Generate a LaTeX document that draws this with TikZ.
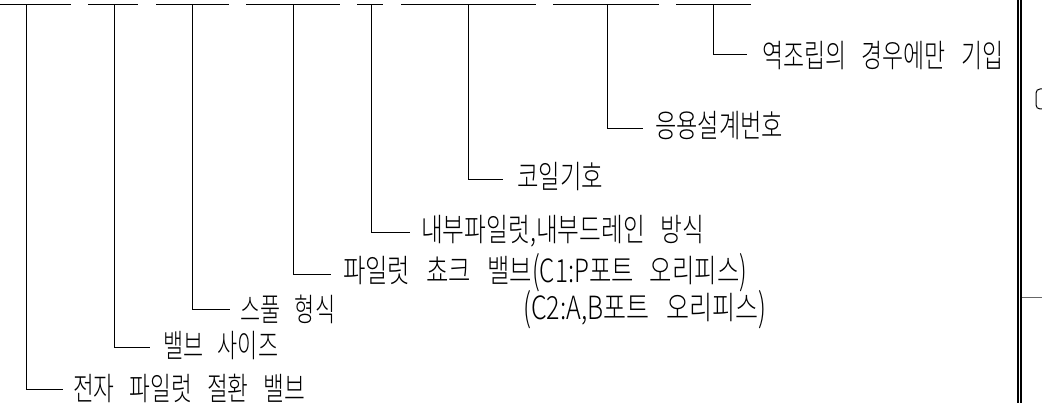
\documentclass[tikz,border=0pt]{standalone}
\usepackage{fontspec}
\usepackage{graphicx}
\setmainfont{Noto Sans CJK KR}[UprightFont={* Light}, WordSpace={3,0,0}]
\newcommand\lblfont{\fontsize{32}{36}\selectfont}
\newcommand\lbl[2]{\resizebox{#1pt}{\height}{#2}}
\newcommand\lp{\raisebox{-2.5pt}{\scalebox{1}[1.2]{(}}}
\newcommand\rp{\raisebox{-2.5pt}{\scalebox{1}[1.2]{)}}}
\tikzset{
  ln/.style={line width=1pt, black},
  lab/.style={anchor=west, inner sep=0pt, font=\lblfont},
}
\begin{document}
\begin{tikzpicture}[x=1pt, y=-1pt]
\useasboundingbox (0,0) rectangle (1042,403);
\clip (0,0) rectangle (1042,403);
\fill[white] (0,0) rectangle (1042,403);
% code placeholder segments on top
\foreach \l/\r [count=\i] in {0/71, 88/138, 156/229, 246/340, 357/383, 401/536, 553/659, 676/751}{
  \coordinate (L\i) at (\l,4.5);
  \coordinate (R\i) at (\r,4.5);
  \draw[ln] (L\i) -- (R\i);
}
% branch points and connector ends
\foreach \x/\y/\e [count=\i] in {26/390/63, 114/348/150, 192/310/230, 293/275/331, 371/233/410, 468/180/503, 607/129/643, 713/55/747}{
  \coordinate (s\i) at (\x,4.5);
  \coordinate (e\i) at (\e,\y);
}
% labels
\node[lab] (t1) at (73,388) {\lbl{232}{전자 파일럿 절환 밸브}};
\node[lab] (t2) at (163,346) {\lbl{115}{밸브 사이즈}};
\node[lab] (t3) at (240,309) {\lbl{95}{스풀 형식}};
\node[lab] (t4) at (343,273) {\lbl{404}{파일럿 쵸크 밸브\lp C1:P포트 오리피스\rp}};
\node[lab] (t4b) at (523,310) {\lbl{243}{\lp C2:A,B포트 오리피스\rp}};
\node[lab] (t5) at (421,231) {\lbl{283}{내부파일럿,내부드레인 방식}};
\node[lab] (t6) at (517,177) {\lbl{86}{코일기호}};
\node[lab] (t7) at (655,126) {\lbl{128}{응용설계번호}};
\node[lab] (t8) at (762,56) {\lbl{241}{역조립의 경우에만 기입}};
% connectors
\foreach \i in {1,...,8}{
  \draw[ln] (s\i) |- (e\i);
}
% right border (double line) and cut-off glyph edge
\coordinate (b1t) at (1018,0); \coordinate (b1b) at (1018,403);
\coordinate (b2t) at (1021.2,0); \coordinate (b2b) at (1021.2,403);
\draw[line width=1.3pt] (b1t) -- (b1b);
\draw[line width=2.2pt] (b2t) -- (b2b);
\coordinate (g1) at (1022,297); \coordinate (g2) at (1042,297);
\draw[line width=0.8pt, black!60] (g1) -- (g2);
\coordinate (c1) at (1043,89);
\coordinate (c2) at (1043,109);
\draw[line width=1pt] (c1) -- (1040,89) arc[start angle=270, end angle=180, radius=4] -- (1036,105) arc[start angle=180, end angle=90, radius=4] -- (c2);
\end{tikzpicture}
\end{document}
